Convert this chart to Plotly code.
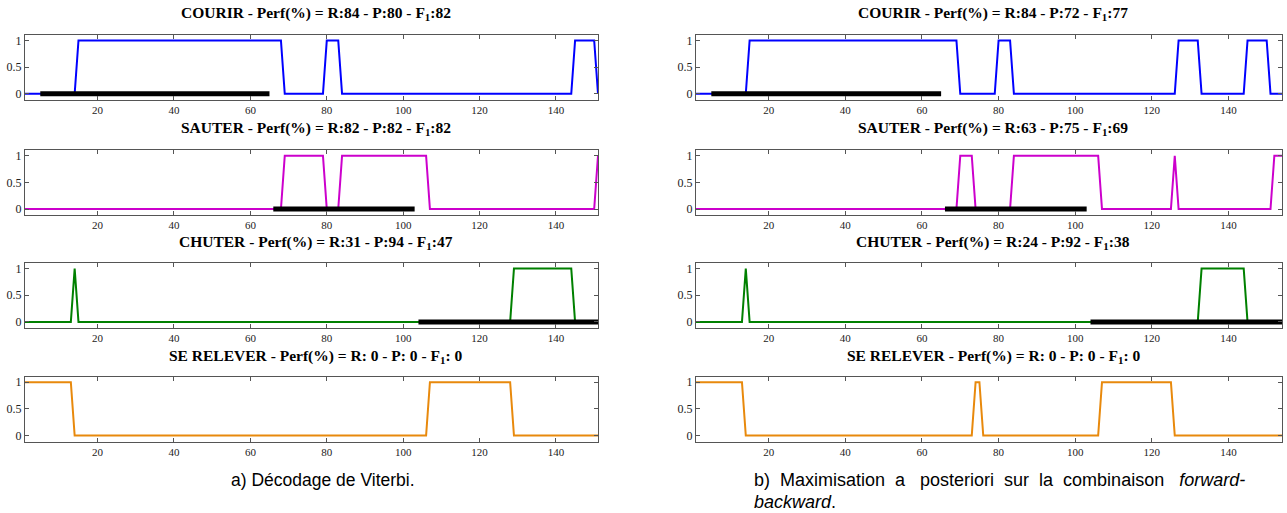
import plotly.graph_objects as go

W, H = 1287, 513

# ---------------- data ----------------
CLASSES = ["COURIR", "SAUTER", "CHUTER", "SE RELEVER"]
COLORS = ["#0000ff", "#cc00cc", "#008000", "#e8890c"]

N_FRAMES_A = 151
N_FRAMES_B = 154

# performance (Recall, Precision, F1) in %
PERF_A = [(84, 80, 82), (82, 82, 82), (31, 94, 47), (0, 0, 0)]
PERF_B = [(84, 72, 77), (63, 75, 69), (24, 92, 38), (0, 0, 0)]

# frame intervals where the decoded state is active (value 1)
ACTIVE_A = {
    "COURIR": [(15, 68), (80, 83), (145, 150)],
    "SAUTER": [(69, 79), (84, 106), (151, 151)],
    "CHUTER": [(14, 14), (129, 144)],
    "SE RELEVER": [(1, 13), (107, 128)],
}
ACTIVE_B = {
    "COURIR": [(15, 69), (80, 83), (127, 132), (145, 150)],
    "SAUTER": [(70, 73), (84, 106), (126, 126), (152, 154)],
    "CHUTER": [(14, 14), (133, 144)],
    "SE RELEVER": [(1, 13), (74, 75), (107, 125)],
}
# ground truth intervals (None end = until end of sequence)
TRUTH = {
    "COURIR": (5, 65),
    "SAUTER": (66, 103),
    "CHUTER": (104, None),
    "SE RELEVER": None,
}

X_TICKS = [20, 40, 60, 80, 100, 120, 140]
Y_TICKS = [0, 0.5, 1]
Y_TICK_LABELS = ["0", "0.5", "1"]

NB = "\u00a0"
CAPTION_A = "a) Décodage de Viterbi."
CAPTION_B_WORDS = ["b)", "Maximisation", "a", "posteriori", "sur", "la", "combinaison", "<i>forward-</i>"]
CAPTION_B2 = "<i>backward</i>."


def series(n, intervals):
    x = list(range(1, n + 1))
    y = [0] * n
    for a, b in intervals:
        for f in range(a, b + 1):
            if 1 <= f <= n:
                y[f - 1] = 1
    return x, y


def px(xp):
    return xp / W


def py(yp):
    return 1 - yp / H


# ---------------- layout geometry (pixels in the reference) ----------------
COL_X = [(25, 598), (696, 1282)]
ROW_TOP = [34.3, 150, 263.3, 377.3]
ROW_H = 65
TITLE_Y = [12.5, 128, 242, 357]

fig = go.Figure()
layout = dict(
    width=W, height=H,
    margin=dict(l=0, r=0, t=0, b=0),
    paper_bgcolor="white", plot_bgcolor="white",
    showlegend=False,
    annotations=[],
)

AX_COLOR = "#555555"
SERIF = "Liberation Serif, Times New Roman, serif"
TICK_FONT = dict(family=SERIF, size=11, color="#222222")

k = 0
for c, (n, active, perf) in enumerate([(N_FRAMES_A, ACTIVE_A, PERF_A), (N_FRAMES_B, ACTIVE_B, PERF_B)]):
    for r, cls in enumerate(CLASSES):
        k += 1
        xa = "x" if k == 1 else f"x{k}"
        ya = "y" if k == 1 else f"y{k}"
        xl = "xaxis" if k == 1 else f"xaxis{k}"
        yl = "yaxis" if k == 1 else f"yaxis{k}"
        x0, x1 = COL_X[c]
        top = ROW_TOP[r]
        bot = top + ROW_H
        layout[xl] = dict(
            domain=[px(x0), px(x1)], anchor=ya, range=[1, n],
            tickvals=X_TICKS, ticks="inside", ticklen=4, tickcolor=AX_COLOR,
            showline=True, linecolor=AX_COLOR, linewidth=1, mirror="ticks",
            showgrid=False, zeroline=False, tickfont=TICK_FONT,
        )
        layout[yl] = dict(
            domain=[py(bot), py(top)], anchor=xa, range=[-0.115, 1.1],
            tickvals=Y_TICKS, ticktext=Y_TICK_LABELS, ticks="inside", ticklen=4,
            tickcolor=AX_COLOR, showline=True, linecolor=AX_COLOR, linewidth=1,
            mirror="ticks", showgrid=False, zeroline=False,
            tickfont=dict(family=SERIF, size=12, color="#222222"),
        )
        xs, ys = series(n, active[cls])
        fig.add_trace(go.Scatter(x=xs, y=ys, mode="lines", xaxis=xa, yaxis=ya,
                                 line=dict(color=COLORS[r], width=2), hoverinfo="skip"))
        t = TRUTH[cls]
        if t is not None:
            a, b = t
            if b is None:
                b = n
            fig.add_trace(go.Scatter(x=[a, b], y=[0, 0], mode="lines", xaxis=xa, yaxis=ya,
                                     line=dict(color="black", width=5), hoverinfo="skip"))
        R, P, F = perf[r]
        title = f"<b>{cls} - Perf(%) = R:{R:2d} - P:{P:2d} - F<sub>1</sub>:{F:2d}</b>"
        layout["annotations"].append(dict(
            text=title, xref="paper", yref="paper",
            x=px((x0 + x1) / 2 + 4), y=py(TITLE_Y[r]),
            xanchor="center", yanchor="middle", showarrow=False,
            font=dict(family=SERIF, size=15.5, color="black"),
        ))

CAP_FONT_A = dict(family="Liberation Sans, Arial, sans-serif", size=17.5, color="black")
CAP_FONT_B = dict(family="Liberation Sans, Arial, sans-serif", size=18, color="black")
gaps = [NB * 2, NB * 2, NB * 3, NB * 2, NB * 2, NB * 2, NB * 3]
caption_b1 = CAPTION_B_WORDS[0]
for g, w in zip(gaps, CAPTION_B_WORDS[1:]):
    caption_b1 += g + w

layout["annotations"].append(dict(text=CAPTION_A, xref="paper", yref="paper",
                                  x=px(323), y=py(481), xanchor="center", yanchor="middle",
                                  showarrow=False, font=CAP_FONT_A))
layout["annotations"].append(dict(text=caption_b1, xref="paper", yref="paper",
                                  x=px(752), y=py(481), xanchor="left", yanchor="middle",
                                  showarrow=False, font=CAP_FONT_B))
layout["annotations"].append(dict(text=CAPTION_B2, xref="paper", yref="paper",
                                  x=px(752), y=py(503), xanchor="left", yanchor="middle",
                                  showarrow=False, font=CAP_FONT_B))

fig.update_layout(**layout)
fig.write_html("out.html",
               config={"displayModeBar": False},
               post_script="document.body.style.margin='0';document.body.style.overflow='hidden';")
